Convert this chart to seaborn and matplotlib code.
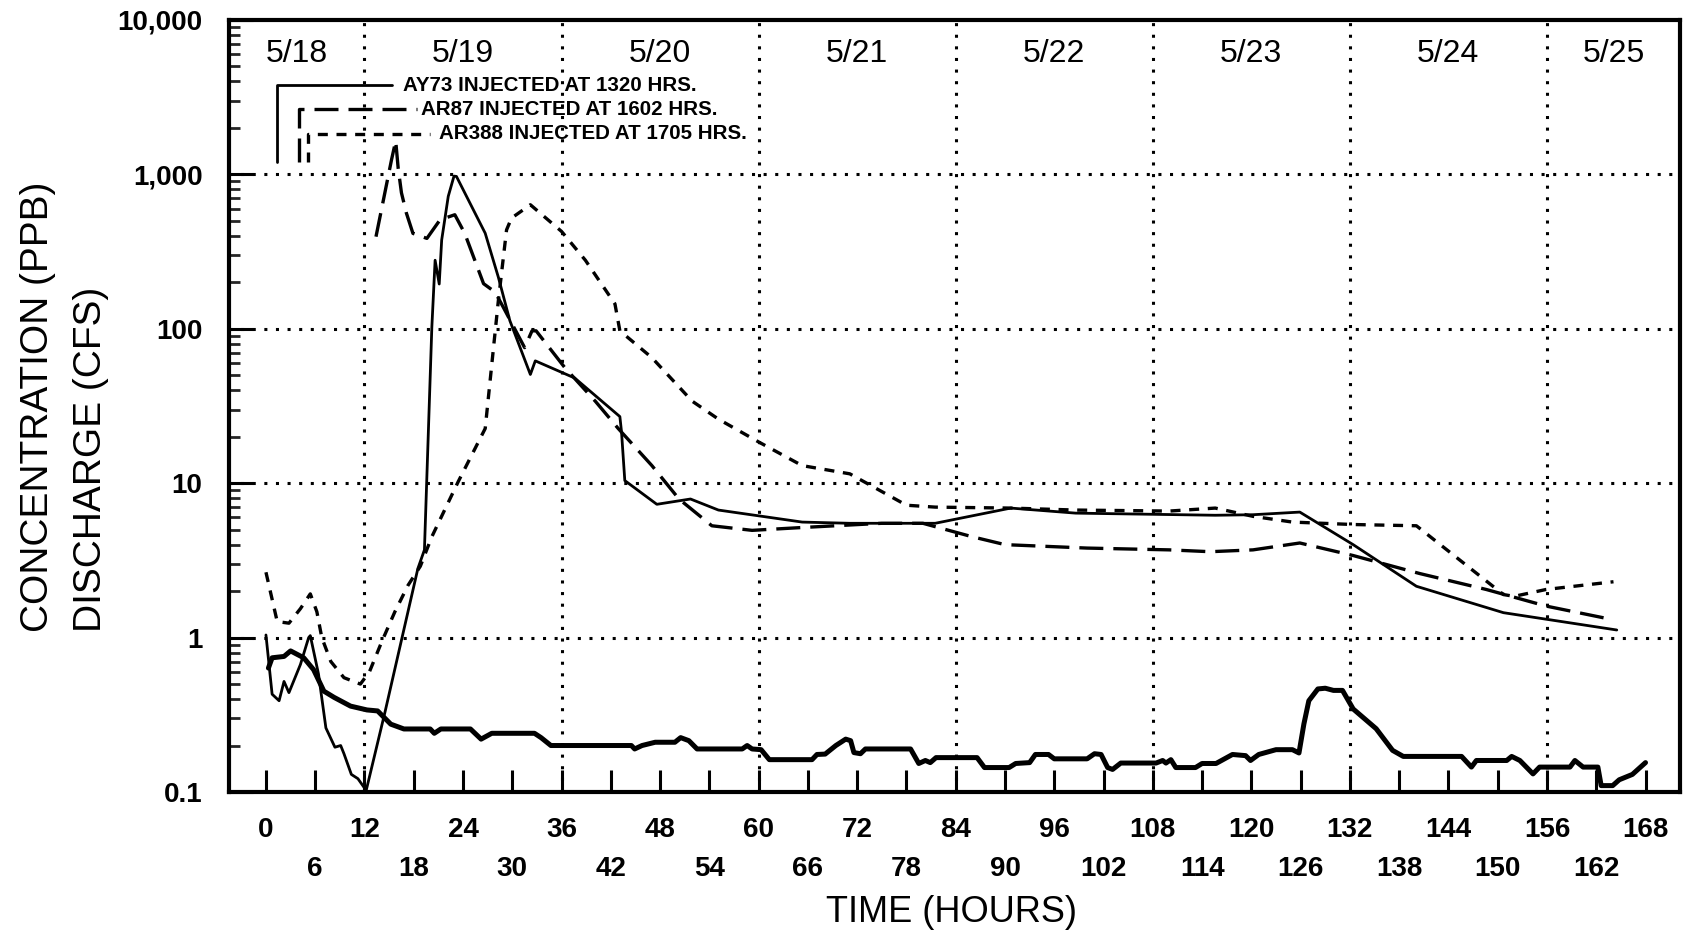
import numpy as np
import pandas as pd
import matplotlib
matplotlib.use("Agg")
import matplotlib.pyplot as plt
from matplotlib import font_manager
from matplotlib.ticker import FixedLocator, FixedFormatter, NullFormatter
import seaborn as sns

# ---------------- data ----------------
# AY73 concentration (ppb), thin solid
ay73_h = [0, 0.75, 1.6, 2.2, 2.8, 4.2, 5.2, 5.4, 6.4, 7.3, 8.4, 9.1, 9.5, 10.4, 11.2, 11.9, 12.2,
          14.5, 18.5, 19.3, 20.2, 20.6, 21.1, 21.4, 22.2, 22.9, 23.2, 26.7, 28.3, 29.7, 32.2, 32.8,
          37.6, 43.1, 43.3, 43.7, 47.6, 51.7, 55.1, 65.3, 71.1, 81.5, 90.7, 98.6, 115.6, 120.2,
          125.9, 132.4, 140.1, 150.7, 164.5]
ay73_c = [1.04, 0.43, 0.39, 0.52, 0.44, 0.67, 1.0, 1.03, 0.58, 0.26, 0.195, 0.2, 0.177, 0.13, 0.122, 0.108, 0.102,
          0.33, 2.8, 3.7, 102, 278, 195, 376, 721, 975, 970, 416, 216, 113, 50.6, 62,
          48, 27, 21.5, 10.4, 7.3, 7.9, 6.7, 5.6, 5.5, 5.5, 6.9, 6.4, 6.2, 6.25,
          6.5, 4.0, 2.15, 1.45, 1.12]

# AR87 concentration (ppb), long dashes
ar87_h = [13.4, 15.3, 15.8, 16.1, 16.5, 17.1, 17.9, 19.6, 21.2, 23.0, 24.2, 26.5, 27.9, 28.9, 31.5,
          32.4, 32.9, 36.4, 40.1, 42.9, 47.0, 50.3, 54.3, 59.2, 64.9, 75.0, 80.0, 86.0, 90.0,
          100.0, 110.0, 115.0, 120.2, 125.9, 132.4, 140.5, 148.6, 155.9, 163.9]
ar87_c = [395, 1250, 1650, 1100, 760, 562, 415, 385, 508, 548, 416, 196, 173, 138, 75.5,
          97, 97, 56, 34, 22.6, 13, 7.9, 5.3, 4.95, 5.15, 5.5, 5.5, 4.5, 4.0,
          3.8, 3.7, 3.6, 3.7, 4.1, 3.4, 2.6, 2.05, 1.6, 1.31]

# AR388 concentration (ppb), short dashes
ar388_h = [0, 1.37, 2.8, 4.2, 5.4, 6.2, 6.8, 7.9, 9.5, 11.5, 12.6, 14.1, 15.7, 17.3, 18.8, 20.2,
           23.4, 26.7, 27.5, 28.3, 29.3, 29.9, 32.2, 36.0, 38.9, 42.5, 43.1, 47.0, 51.9, 55.1,
           60.0, 65.3, 71.1, 78.0, 81.5, 90.7, 98.6, 110.0, 115.6, 120.2, 125.0, 132.4, 140.1,
           150.7, 152.0, 155.9, 164.1]
ar388_c = [2.65, 1.27, 1.24, 1.54, 1.92, 1.47, 1.0, 0.7, 0.55, 0.5, 0.6, 0.94, 1.47, 2.18, 2.9, 4.5,
           10.2, 22.6, 58.7, 152, 437, 521, 636, 427, 278, 145, 97, 65, 34, 26,
           18.5, 13, 11.5, 7.2, 7.0, 6.9, 6.7, 6.6, 6.9, 6.1, 5.6, 5.4, 5.3,
           1.9, 1.85, 2.05, 2.3]

# Discharge (cfs), thick solid
q_h = [0.3, 0.75, 2.2, 3.0, 4.6, 5.8, 7.05, 8.3, 10.3, 12.3, 13.6, 15.2, 16.8, 20.0, 20.5, 21.3,
       24.9, 26.2, 27.5, 32.7, 33.5, 34.7, 44.5, 44.9, 45.8, 47.4, 49.8, 50.5, 51.5, 52.5, 58.0,
       58.6, 59.2, 60.3, 61.3, 66.5, 67.1, 68.1, 69.4, 70.6, 71.2, 71.6, 72.4, 73.0, 78.5, 79.5,
       80.3, 80.9, 81.6, 86.6, 87.5, 90.5, 91.3, 93.0, 93.7, 95.3, 96.0, 100.0, 100.9, 101.7,
       102.5, 103.1, 104.1, 108.4, 109.2, 109.6, 110.2, 110.8, 113.2, 114.0, 115.7, 117.7, 119.3,
       119.9, 120.9, 123.0, 125.0, 125.8, 126.4, 127.0, 128.1, 129.0, 130.0, 131.1, 132.4, 135.2,
       137.2, 138.5, 145.6, 146.8, 147.4, 151.1, 151.7, 152.7, 154.3, 155.1, 158.8, 159.4, 160.4,
       162.2, 162.6, 164.0, 164.8, 166.4, 168.0]
q_v = [0.635, 0.74, 0.755, 0.82, 0.74, 0.62, 0.45, 0.41, 0.36, 0.34, 0.335, 0.275, 0.256, 0.256, 0.24, 0.256,
       0.256, 0.22, 0.24, 0.24, 0.225, 0.20, 0.20, 0.19, 0.20, 0.21, 0.21, 0.225, 0.215, 0.19, 0.19,
       0.20, 0.19, 0.188, 0.162, 0.162, 0.175, 0.176, 0.20, 0.22, 0.215, 0.18, 0.177, 0.19, 0.19, 0.153,
       0.16, 0.155, 0.167, 0.167, 0.144, 0.144, 0.153, 0.155, 0.175, 0.175, 0.164, 0.164, 0.177, 0.175,
       0.144, 0.14, 0.154, 0.154, 0.16, 0.154, 0.162, 0.144, 0.144, 0.153, 0.153, 0.175, 0.172,
       0.16, 0.175, 0.188, 0.188, 0.179, 0.276, 0.39, 0.465, 0.47, 0.455, 0.455, 0.345, 0.257,
       0.186, 0.17, 0.17, 0.145, 0.16, 0.16, 0.17, 0.16, 0.131, 0.145, 0.145, 0.16, 0.145,
       0.145, 0.11, 0.11, 0.12, 0.13, 0.155]

# injection annotations
inject_hours = [1.33, 4.03, 5.08]
inject_labels = ["AY73 INJECTED AT 1320 HRS.", "AR87 INJECTED AT 1602 HRS.", "AR388 INJECTED AT 1705 HRS."]
inject_levels = [3790, 2640, 1830]
inject_line_end = [15.3, 18.4, 20.0]
inject_text_x = [16.7, 18.9, 21.1]
inject_base = 1210

# day labels / boundaries
day_bounds = [12, 36, 60, 84, 108, 132, 156]
day_labels = ["5/18", "5/19", "5/20", "5/21", "5/22", "5/23", "5/24", "5/25"]

x_major = list(range(0, 169, 12))
x_minor = list(range(6, 169, 12))
y_ticks = [0.1, 1, 10, 100, 1000, 10000]
y_ticklabels = ["0.1", "1", "10", "100", "1,000", "10,000"]

# ---------------- style ----------------
sns.set_theme(style="white")
names = {f.name for f in font_manager.fontManager.ttflist}
base_font = "Liberation Sans" if "Liberation Sans" in names else "DejaVu Sans"
narrow = "Liberation Sans Narrow" if "Liberation Sans Narrow" in names else None
plt.rcParams["font.family"] = [base_font, "DejaVu Sans"]

fig = plt.figure(figsize=(16.85, 9.3), dpi=100)
ax = fig.add_axes([229 / 1685, 1 - 792 / 930, (1680 - 229) / 1685, (792 - 20) / 930])

K = "black"
ls_long = (0, (7.2, 3.0))
ls_short = (0, (3.0, 2.6))

sns.lineplot(x=q_h, y=q_v, ax=ax, color=K, linewidth=3.6, sort=False, estimator=None)
sns.lineplot(x=ay73_h, y=ay73_c, ax=ax, color=K, linewidth=2.0, sort=False, estimator=None)
sns.lineplot(x=ar87_h, y=ar87_c, ax=ax, color=K, linewidth=2.4, linestyle=ls_long, sort=False, estimator=None)
sns.lineplot(x=ar388_h, y=ar388_c, ax=ax, color=K, linewidth=2.4, linestyle=ls_short, sort=False, estimator=None)

ax.set_yscale("log")
ax.set_xlim(-4.5, 172.2)
ax.set_ylim(0.1, 10000)

# dotted grid
grid_kw = dict(color=K, linewidth=2.2, linestyle=(0, (1, 2.8)), zorder=0.5)
for b in day_bounds:
    ax.axvline(b, **grid_kw)
for yv in y_ticks[1:-1]:
    ax.axhline(yv, **grid_kw)

# injection markers
styles = ["-", ls_long, ls_short]
for t, lvl, xe, xt, lab, st in zip(inject_hours, inject_levels, inject_line_end, inject_text_x,
                                   inject_labels, styles):
    ax.plot([t, t, xe], [inject_base, lvl, lvl], color=K, linewidth=2.4 if st != "-" else 2.0,
            linestyle=st)
    ax.text(xt, lvl, lab, fontsize=14.8, fontweight="bold", va="center", ha="left", color=K)

# day labels
xl = ax.get_xlim()
edges = [xl[0]] + day_bounds + [xl[1]]
for i, lab in enumerate(day_labels):
    ax.text((edges[i] + edges[i + 1]) / 2, 0.956, lab, transform=ax.get_xaxis_transform(),
            ha="center", va="center", fontsize=23, color=K)

# ticks
ax.xaxis.set_major_locator(FixedLocator(x_major))
ax.xaxis.set_minor_locator(FixedLocator(x_minor))
ax.set_xticklabels([str(v) for v in x_major])
ax.xaxis.set_minor_formatter(FixedFormatter([str(v) for v in x_minor]))
ax.tick_params(axis="x", which="major", direction="in", length=16, width=2.2, bottom=True,
               top=False, labelsize=20, pad=18, colors=K)
ax.tick_params(axis="x", which="minor", direction="in", length=16, width=2.2, bottom=True,
               top=False, labelsize=20, pad=46, colors=K)
for lab in ax.get_xticklabels(which="both"):
    lab.set_fontweight("bold")

ax.yaxis.set_major_locator(FixedLocator(y_ticks))
ax.set_yticklabels(y_ticklabels)
minor_y = [m * 10.0 ** e for e in range(-1, 4) for m in range(2, 10)]
ax.yaxis.set_minor_locator(FixedLocator(minor_y))
ax.yaxis.set_minor_formatter(NullFormatter())
ax.tick_params(axis="y", which="major", direction="in", length=17, width=2.2, left=True,
               right=False, labelsize=20, pad=19, colors=K)
ax.tick_params(axis="y", which="minor", direction="in", length=8, width=2.0, left=True, right=False)
for lab in ax.get_yticklabels():
    lab.set_fontweight("bold")

for sp in ax.spines.values():
    sp.set_visible(True)
    sp.set_color(K)
    sp.set_linewidth(3.0)

ax.set_xlabel("")
ax.set_ylabel("")

# axis titles
if narrow:
    tfam = [narrow, base_font]
    ysz, xsz = 34, 32
else:
    tfam = [base_font]
    ysz, xsz = 28, 26
fig.text(38 / 1685, 1 - 632 / 930, "CONCENTRATION (PPB)", rotation=90, ha="center", va="bottom",
         fontsize=ysz, family=tfam, color=K)
fig.text(91 / 1685, 1 - 632 / 930, "DISCHARGE (CFS)", rotation=90, ha="center", va="bottom",
         fontsize=ysz, family=tfam, color=K)
fig.text(951 / 1685, 1 - 912 / 930, "TIME (HOURS)", ha="center", va="center",
         fontsize=xsz, family=tfam, color=K)

fig.savefig("out.png", dpi=100, facecolor="white")
